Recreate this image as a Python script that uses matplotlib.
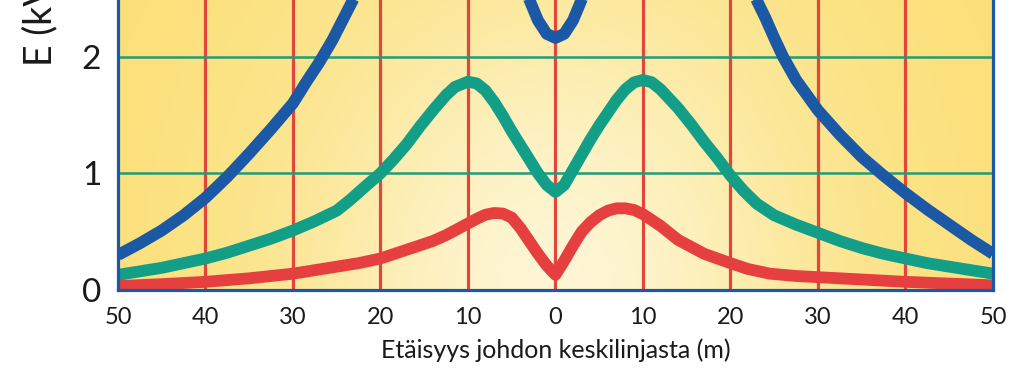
import numpy as np
import matplotlib
matplotlib.use("Agg")
import matplotlib.pyplot as plt
from matplotlib.colors import LinearSegmentedColormap

plt.rcParams['font.family'] = ['Lato', 'DejaVu Sans']

# distance from line centre (m) and field strength E (kV/m)
# (the blue curve leaves the visible area at the top, values up there are guessed)
blue_x = [-50, -47.5, -45, -42.5, -40, -37.5, -35, -32.5, -30, -28.5, -27, -25.5, -24, -22.5, -21, -19, -17,
          -15, -12.5, -10, -8, -6, -4.5, -3, -2, -1, 0,
          1, 2, 3, 4.5, 6, 8, 10, 12.5, 15, 17, 19, 21, 22.5, 24, 25, 26, 27.5, 30, 32.5, 35, 37.5,
          40, 42.5, 45, 47.5, 50]
blue_y = [0.30, 0.40, 0.51, 0.64, 0.79, 0.97, 1.17, 1.38, 1.60, 1.78, 1.95, 2.14, 2.36, 2.58, 2.80, 3.05, 3.28,
          3.42, 3.52, 3.50, 3.40, 3.15, 2.85, 2.49, 2.31, 2.195, 2.16,
          2.195, 2.31, 2.49, 2.85, 3.15, 3.40, 3.50, 3.52, 3.42, 3.27, 3.02, 2.78, 2.56, 2.33, 2.16, 2.00, 1.80, 1.54, 1.33, 1.14, 0.98,
          0.83, 0.69, 0.56, 0.43, 0.31]

green_x = [-50, -47.5, -45, -42.5, -40, -37.5, -35, -32.5, -30, -27.5, -25, -23.5, -22, -20, -18.5, -17,
           -15.5, -14, -12.5, -11.5, -10, -9, -8, -7, -6, -5, -4, -3, -2, -1, 0,
           1, 2, 3, 4, 5, 6, 7, 8, 9, 10, 11, 12, 13, 14, 15.5, 17, 18.5, 20, 21.5, 23, 25, 27.5,
           30, 32.5, 35, 37.5, 40, 42.5, 45, 47.5, 50]
green_y = [0.13, 0.16, 0.19, 0.23, 0.27, 0.32, 0.38, 0.44, 0.51, 0.59, 0.68, 0.77, 0.87, 1.00, 1.12, 1.25,
           1.40, 1.54, 1.67, 1.74, 1.785, 1.77, 1.71, 1.61, 1.49, 1.36, 1.24, 1.12, 1.00, 0.90, 0.84,
           0.90, 1.03, 1.16, 1.29, 1.41, 1.52, 1.63, 1.72, 1.78, 1.80, 1.78, 1.72, 1.64, 1.56, 1.42, 1.27, 1.13, 0.98, 0.85, 0.74, 0.64, 0.56,
           0.49, 0.42, 0.36, 0.31, 0.27, 0.23, 0.20, 0.17, 0.14]

red_x = [-50, -45, -40, -35, -30, -27.5, -25, -22.5, -20, -18, -16, -14, -12.5, -11, -10, -9, -8, -7, -6,
         -5, -4, -3, -2, -1, 0, 1, 2, 3, 4, 5, 6, 7, 8, 9, 10, 11, 12, 13, 14, 15.5, 17, 18.5, 20,
         22, 24.5, 27.5, 30, 35, 40, 45, 50]
red_y = [0.034, 0.05, 0.07, 0.10, 0.14, 0.17, 0.20, 0.23, 0.27, 0.32, 0.37, 0.42, 0.47, 0.53, 0.57, 0.61, 0.645, 0.66, 0.655,
         0.62, 0.53, 0.42, 0.31, 0.21, 0.13, 0.25, 0.38, 0.50, 0.58, 0.64, 0.68, 0.70, 0.70, 0.685, 0.65, 0.60, 0.55, 0.49, 0.43, 0.37, 0.31, 0.27, 0.23,
         0.18, 0.14, 0.12, 0.11, 0.09, 0.07, 0.055, 0.04]

xticks = [-50, -40, -30, -20, -10, 0, 10, 20, 30, 40, 50]
xticklabels = ['50', '40', '30', '20', '10', '0', '10', '20', '30', '40', '50']
yticks = [0, 1, 2]

fig = plt.figure(figsize=(10.24, 3.78), dpi=100)
ax = fig.add_axes([0.1152, 0.2328, 0.8545, 0.7718])
ax.set_xlim(-50, 50)
ax.set_ylim(0, 2.5)

# yellow background, paler towards bottom centre
u, v = np.meshgrid(np.linspace(-1, 1, 300), np.linspace(0, 1, 150))
light = np.exp(-(u / 0.6) ** 2 - (v / 1.1) ** 2)
cmap = LinearSegmentedColormap.from_list('bg', ['#fbe07a', '#fef6d4'])
ax.imshow(light, cmap=cmap, extent=(-50, 50, 0, 2.5), origin='lower',
          aspect='auto', zorder=0, interpolation='bicubic')

for xv in [-40, -30, -20, -10, 0, 10, 20, 30, 40]:
    ax.axvline(xv, color='#e2453c', lw=2.3, zorder=1)
for yv in [1, 2]:
    ax.axhline(yv, color='#1f9c78', lw=1.8, zorder=1)

ax.plot(red_x, red_y, color='#e5403f', lw=8.5, solid_capstyle='butt', solid_joinstyle='round', zorder=3)
ax.plot(green_x, green_y, color='#139e88', lw=8.5, solid_capstyle='butt', solid_joinstyle='round', zorder=3)
ax.plot(blue_x, blue_y, color='#1b58a5', lw=8.5, solid_capstyle='butt', solid_joinstyle='round', zorder=3)

for s in ['left', 'right', 'bottom']:
    ax.spines[s].set_color('#1b58a5')
    ax.spines[s].set_linewidth(2.3)
    ax.spines[s].set_zorder(4)
ax.spines['top'].set_visible(False)

ax.set_xticks(xticks)
ax.set_xticklabels(xticklabels)
ax.set_yticks(yticks)
ax.tick_params(axis='x', length=0, pad=12, labelsize=17, labelcolor='#1a1a1a')
ax.tick_params(axis='y', length=0, pad=12, labelsize=24, labelcolor='#1a1a1a')

ax.set_xlabel('Etäisyys johdon keskilinjasta (m)', fontsize=18, color='#1a1a1a', labelpad=8)
fig.text(0.039, 1 - 66 / 378, 'E (kV/m)', rotation=90, rotation_mode='anchor',
         ha='left', va='center', fontsize=27, color='#1a1a1a')

plt.savefig('out.png', dpi=100)
